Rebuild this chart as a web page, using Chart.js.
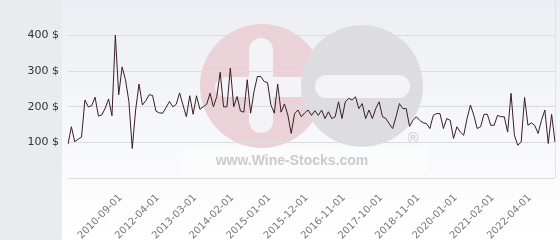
<!DOCTYPE html>
<html><head><meta charset="utf-8">
<script src="https://cdn.jsdelivr.net/npm/chart.js@4.4.1/dist/chart.umd.min.js"></script>
<style>html,body{margin:0;padding:0;background:#fff}#wrap{width:560px;height:240px;position:relative}</style>
</head><body><div id="wrap"><canvas id="c" width="560" height="240"></canvas></div>
<script>
const categories = [
 '2008-03-01','2008-06-01','2008-09-01','2008-11-01','2009-01-01','2009-03-01','2009-05-01','2009-07-01','2009-09-01','2009-11-01',
 '2010-01-01','2010-03-01','2010-05-01','2010-06-01','2010-08-01','2010-09-01',
 '2010-11-01','2011-01-01','2011-03-01','2011-05-01','2011-07-01','2011-09-01','2011-11-01','2012-01-01','2012-02-01','2012-03-01',
 '2012-04-01','2012-05-01','2012-06-01','2012-07-01','2012-08-01','2012-09-01','2012-10-01','2012-11-01','2012-12-01',
 '2013-01-01','2013-02-01','2013-03-01','2013-04-01','2013-05-01','2013-06-01','2013-07-01','2013-08-01','2013-09-01','2013-10-01','2013-11-01','2013-12-01',
 '2014-01-01','2014-02-01','2014-03-01','2014-04-01','2014-05-01','2014-06-01','2014-07-01','2014-08-01','2014-09-01','2014-10-01','2014-11-01','2014-12-01',
 '2015-01-01','2015-02-01','2015-03-01','2015-04-01','2015-05-01','2015-06-01','2015-07-01','2015-08-01','2015-09-01','2015-10-01','2015-11-01','2015-12-01',
 '2016-01-01','2016-02-01','2016-03-01','2016-04-01','2016-05-01','2016-06-01','2016-07-01','2016-08-01','2016-09-01','2016-10-01','2016-11-01','2016-12-01',
 '2017-01-01','2017-02-01','2017-03-01','2017-04-01','2017-05-01','2017-06-01','2017-07-01','2017-08-01','2017-09-01','2017-10-01',
 '2017-11-01','2017-12-01','2018-01-01','2018-03-01','2018-04-01','2018-05-01','2018-06-01','2018-07-01','2018-09-01','2018-10-01','2018-11-01',
 '2018-12-01','2019-01-01','2019-03-01','2019-04-01','2019-05-01','2019-07-01','2019-08-01','2019-09-01','2019-11-01','2019-12-01','2020-01-01',
 '2020-02-01','2020-03-01','2020-05-01','2020-06-01','2020-07-01','2020-08-01','2020-09-01','2020-10-01','2020-12-01','2021-01-01','2021-02-01',
 '2021-03-01','2021-04-01','2021-06-01','2021-07-01','2021-08-01','2021-10-01','2021-11-01','2021-12-01','2022-02-01','2022-03-01','2022-04-01',
 '2022-05-01','2022-06-01','2022-07-01','2022-09-01','2022-10-01','2022-11-01','2022-12-01','2023-01-01'
];
const prices = [
 95,144,102,109,115,219,200,203,227,174,
 177,196,222,175,401,234,312,276,215,83,
 191,264,205,217,234,232,188,183,182,198,
 215,200,207,239,205,172,231,179,231,193,
 200,207,238,200,229,297,200,200,309,200,
 229,188,185,276,182,243,285,285,271,268,
 205,182,264,185,208,177,125,181,191,172,
 183,191,176,189,176,191,167,186,167,172,
 214,167,214,224,219,228,195,209,167,191,
 167,195,214,172,167,152,139,172,209,195,
 195,145,162,172,162,155,153,139,176,181,
 181,139,167,162,111,144,129,120,167,205,
 176,139,144,179,179,148,148,176,172,172,
 129,238,120,92,101,226,148,155,148,125,
 162,191,97,179,101
];
const tickLabels = ['2010-09-01','2012-04-01','2013-03-01','2014-02-01','2015-01-01','2015-12-01','2016-11-01','2017-10-01','2018-11-01','2020-01-01','2021-02-01','2022-04-01'];
const yTickValues = [100,200,300,400];
const yMax = 500;

function rr(ctx,x,y,w,h,r){ctx.beginPath();ctx.moveTo(x+r,y);ctx.arcTo(x+w,y,x+w,y+h,r);ctx.arcTo(x+w,y+h,x,y+h,r);ctx.arcTo(x,y+h,x,y,r);ctx.arcTo(x,y,x+w,y,r);ctx.closePath();}

const bgPlugin = {
  id:'bg',
  beforeDraw(chart){
    const ctx = chart.ctx, W = chart.width, H = chart.height;
    ctx.save();
    const g = ctx.createLinearGradient(0,0,0,H);
    g.addColorStop(0,'#eceef3'); g.addColorStop(0.8,'#fcfcfd'); g.addColorStop(1,'#ffffff');
    ctx.fillStyle = g; ctx.fillRect(62,0,W-62,H);
    ctx.fillStyle = '#e8ecef'; ctx.fillRect(0,0,62,H);
    ctx.fillStyle = '#e3e3e3'; ctx.fillRect(555,0,1,178);
    // watermark
    ctx.fillStyle = 'rgba(255,255,255,0.45)'; ctx.fillRect(183,146,245,27);
    ctx.fillStyle = '#ebd2d9';
    ctx.beginPath(); ctx.arc(262,86,62,0,Math.PI*2); ctx.fill();
    ctx.fillStyle = '#f4f4f7';
    rr(ctx,249,38,24,95,12); ctx.fill();
    rr(ctx,215,77,95,20,10); ctx.fill();
    ctx.beginPath(); ctx.arc(362,86,61,0,Math.PI*2); ctx.fillStyle='#dddddf'; ctx.fill();
    ctx.fillStyle = '#f4f4f7';
    rr(ctx,315,75,95,23,11.5); ctx.fill();
    ctx.fillStyle = '#d2d2d4';
    ctx.font = 'bold 15px "Liberation Sans", Arial, sans-serif';
    ctx.textAlign='center'; ctx.textBaseline='middle';
    ctx.fillText('\u00AE',413,139);
    ctx.fillStyle = '#cbcbcb';
    ctx.font = 'bold 14px "Liberation Sans", Arial, sans-serif';
    ctx.fillText('www.Wine-Stocks.com',292,161);
    ctx.restore();
  }
};

new Chart(document.getElementById('c'), {
  type:'line',
  data:{ labels: categories, datasets:[{ data: prices, borderColor:'#3a1d29', borderWidth:1, pointRadius:0, tension:0, fill:false }]},
  options:{
    responsive:false, animation:false, devicePixelRatio:1,
    layout:{ padding:{ left:0, right:5, top:0, bottom:0 } },
    plugins:{ legend:{display:false}, tooltip:{enabled:false} },
    scales:{
      x:{
        grid:{ display:false }, border:{ display:false },
        ticks:{ autoSkip:false, minRotation:45, maxRotation:45, padding:6, labelOffset:2, color:'#777',
          font:{ family:'DejaVu Sans', size:10 },
          callback:(v,i)=> tickLabels.includes(categories[i]) ? categories[i] : '' },
        afterFit(s){ s.height = 62; s.paddingLeft = 0; s.paddingRight = 0; }
      },
      y:{
        min:0, max:yMax,
        grid:{ color:'#dcdcdc', drawTicks:false, lineWidth:1 }, border:{ display:false },
        ticks:{ stepSize:100, padding:9, color:'#333',
          font:{ family:'DejaVu Sans', size:11 },
          callback:(v)=> v===yMax ? null : (yTickValues.includes(v) ? v + ' $' : '') },
        afterFit(s){ s.width = 68; s.paddingTop = 0; s.paddingBottom = 0; }
      }
    }
  },
  plugins:[bgPlugin]
});
</script></body></html>
